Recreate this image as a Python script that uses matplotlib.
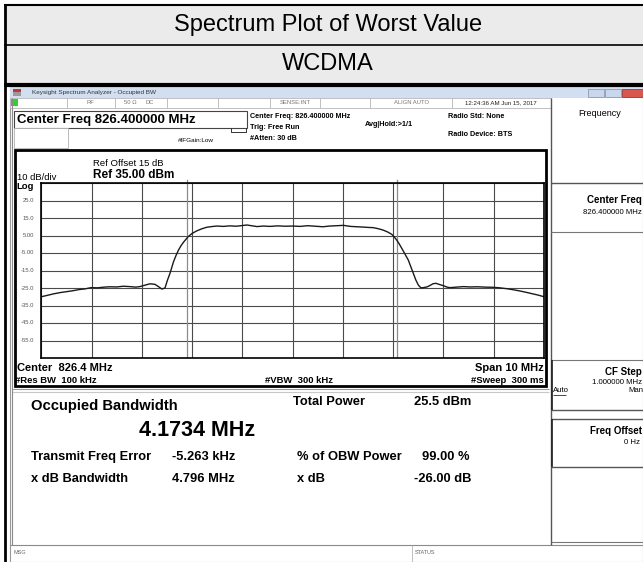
import matplotlib
matplotlib.use('Agg')
import matplotlib.pyplot as plt
from matplotlib.patches import Rectangle

plt.rcParams['font.family'] = ['Liberation Sans', 'DejaVu Sans']

# ---------------- data ----------------
title_text = 'Spectrum Plot of Worst Value'
mode_text = 'WCDMA'
center_mhz = 826.4
span_mhz = 10
ref_level_dbm = 35
db_per_div = 10
obw_mhz = 4.1734
freq_error_khz = -5.263
y_tick_labels = ['25.0', '15.0', '5.00', '-5.00', '-15.0', '-25.0', '-35.0', '-45.0', '-55.0']

trace_freq_mhz = [821.40, 821.52, 821.65, 821.78, 821.90, 822.02, 822.15, 822.27, 822.39, 822.52,
                  822.65, 822.77, 822.90, 823.03, 823.16, 823.28, 823.36, 823.46, 823.56, 823.66,
                  823.73, 823.80, 823.86, 823.91, 823.96, 824.03, 824.08, 824.13, 824.18, 824.23,
                  824.32, 824.40, 824.49, 824.59, 824.69, 824.79, 824.89, 825.02, 825.15, 825.28,
                  825.40, 825.49, 825.58, 825.69, 825.82, 825.95, 826.10, 826.25, 826.40, 826.55,
                  826.70, 826.85, 827.00, 827.14, 827.28, 827.41, 827.55, 827.68, 827.81, 827.91,
                  828.00, 828.10, 828.20, 828.29, 828.37, 828.42, 828.47, 828.52, 828.57, 828.64,
                  828.70, 828.75, 828.80, 828.85, 828.90, 828.95, 829.00, 829.07, 829.13, 829.19,
                  829.25, 829.32, 829.40, 829.47, 829.53, 829.66, 829.80, 829.93, 830.08, 830.23,
                  830.39, 830.52, 830.66, 830.79, 830.92, 831.05, 831.17, 831.29, 831.40]
trace_level_dbm = [-30.0, -29.2, -28.3, -27.6, -27.1, -26.6, -25.9, -25.5, -24.8, -24.9,
                   -24.5, -24.3, -24.4, -24.0, -24.2, -24.5, -24.2, -23.4, -22.6, -22.9,
                   -24.2, -25.6, -25.0, -20.5, -16.6, -10.0, -6.4, -3.3, -0.8, 1.2,
                   4.3, 6.2, 7.6, 8.8, 9.7, 10.1, 10.4, 10.2, 10.5, 10.3,
                   10.7, 11.0, 10.6, 10.1, 10.4, 10.2, 10.5, 10.3, 10.4, 10.2,
                   10.6, 10.3, 10.0, 10.4, 10.6, 10.8, 10.2, 10.0, 9.8, 9.6,
                   9.5, 8.9, 8.1, 7.0, 5.7, 4.2, 2.4, 0.2, -2.3, -5.9,
                   -9.0, -12.8, -16.6, -20.4, -23.3, -24.9, -24.8, -24.4, -23.6, -22.6,
                   -22.3, -23.0, -23.7, -24.5, -24.8, -24.5, -24.2, -24.4, -24.3, -24.5,
                   -24.6, -24.9, -25.4, -26.0, -26.7, -27.5, -28.3, -29.1, -30.0]

# ---------------- figure ----------------
W, H = 643, 562
fig = plt.figure(figsize=(W / 100, H / 100), dpi=100)
fig.patch.set_facecolor('white')
bg = fig.add_axes([0, 0, 1, 1])
bg.set_xlim(0, W)
bg.set_ylim(H, 0)
bg.axis('off')


def rect(x0, y0, x1, y1, fc='none', ec='none', lw=1.0, z=1):
    bg.add_patch(Rectangle((x0, y0), x1 - x0, y1 - y0, facecolor=fc,
                           edgecolor=ec, linewidth=lw, zorder=z))


def hline(y, x0, x1, color='black', lw=1.0, z=3):
    bg.plot([x0, x1], [y, y], color=color, lw=lw, zorder=z, solid_capstyle='butt')


def vline(x, y0, y1, color='black', lw=1.0, z=3):
    bg.plot([x, x], [y0, y1], color=color, lw=lw, zorder=z, solid_capstyle='butt')


def txt(x, y, s, size=7, weight='normal', ha='left', va='center', color='black', z=5):
    bg.text(x, y, s, fontsize=size, fontweight=weight, ha=ha, va=va, color=color, zorder=z)


# outer table header rows
rect(4, 4, 660, 84, fc='#ebebeb', z=0)
hline(4.5, 4, W, lw=1.5)
hline(45, 4, W, lw=1.2)
hline(84.5, 4, W, lw=3)
vline(4.5, 4, H, lw=2)
txt(328, 25.5, title_text, size=17, ha='center')
txt(328, 64.5, mode_text, size=17, ha='center')

# screenshot window
rect(10, 87, W, H, fc='white', ec='#9a9a9a', lw=0.8, z=0)
rect(10, 87, W, 98, fc='#d2dff0', z=1)
rect(13, 89, 21, 92, fc='#c8323a', z=2)
rect(13, 92, 21, 96, fc='#9a9a9a', z=2)
txt(32, 92.5, 'Keysight Spectrum Analyzer - Occupied BW', size=4.6, color='#333333')
rect(588, 88.5, 604, 96.5, fc='#c9d7ec', ec='#8a9bb3', lw=0.6, z=2)
rect(605, 88.5, 621, 96.5, fc='#c9d7ec', ec='#8a9bb3', lw=0.6, z=2)
rect(622, 88.5, 643, 96.5, fc='#d8574e', ec='#9b3a33', lw=0.6, z=2)

# status row
rect(10, 98, 551, 108, fc='white', ec='#b5b5b5', lw=0.6, z=1)
rect(11, 99, 18, 106, fc='#2fd12f', z=2)
for xs in [67, 115, 167, 218, 270, 320, 370, 452]:
    vline(xs, 98, 108, color='#b5b5b5', lw=0.6)
txt(90, 103, 'RF', size=4.2, color='#777777', ha='center')
txt(130, 103, '50 \u03a9', size=4.2, color='#777777', ha='center')
txt(150, 103, 'DC', size=4.2, color='#777777', ha='center')
txt(295, 103, 'SENSE:INT', size=4.2, color='#777777', ha='center')
txt(412, 103, 'ALIGN AUTO', size=4.2, color='#777777', ha='center')
txt(501, 103, '12:24:36 AM Jun 15, 2017', size=4.4, color='#222222', ha='center')

# center freq box and info
rect(14, 111, 247, 128, fc='white', ec='#444444', lw=0.8, z=1)
txt(17, 119.5, f'Center Freq {center_mhz:.6f} MHz', size=9.5, weight='bold')
rect(14, 128, 68, 148, fc='white', ec='#b0b0b0', lw=0.6, z=1)
bg.plot([231, 231, 246, 246], [128, 132, 132, 128], color='#333333', lw=0.7, zorder=3)
txt(178, 141, '#IFGain:Low', size=4.6)
txt(250, 117, f'Center Freq: {center_mhz:.6f} MHz', size=5.2, weight='bold')
txt(250, 127.5, 'Trig: Free Run', size=5.2, weight='bold')
txt(250, 138, '#Atten: 30 dB', size=5.2, weight='bold')
txt(365, 124, 'Avg|Hold:>1/1', size=5.2, weight='bold')
txt(448, 117, 'Radio Std: None', size=5.2, weight='bold')
txt(448, 135, 'Radio Device: BTS', size=5.2, weight='bold')

# plot frame
rect(15, 150, 546, 386, fc='white', ec='black', lw=2, z=1)
txt(93, 163, 'Ref Offset 15 dB', size=6.8)
txt(93, 175, f'Ref {ref_level_dbm:.2f} dBm', size=8.5, weight='bold')
txt(17, 177, f'{db_per_div} dB/div', size=6.8)
txt(16, 186.5, 'Log', size=6.8, weight='bold')
for i, lab in enumerate(y_tick_labels):
    txt(34, 183 + (i + 1) * 17.5, lab, size=4.2, ha='right', color='#555555')
txt(17, 368, f'Center  {center_mhz} MHz', size=8, weight='bold')
txt(15, 380.5, '#Res BW  100 kHz', size=6.8, weight='bold')
txt(265, 380.5, '#VBW  300 kHz', size=6.8, weight='bold')
txt(544, 368, f'Span {span_mhz} MHz', size=8, weight='bold', ha='right')
txt(544, 380.5, '#Sweep  300 ms', size=6.8, weight='bold', ha='right')

# measurement area
hline(389, 12, 549, color='#9a9a9a', lw=0.8)
hline(392, 12, 549, color='#c8c8c8', lw=0.8)
vline(12, 98, 545, color='#8a8a8a', lw=0.8)
meas_size = 9.3
txt(31, 406, 'Occupied Bandwidth', size=10.6, weight='bold')
txt(139, 431, f'{obw_mhz:.4f} MHz', size=15.5, weight='bold')
txt(293, 402, 'Total Power', size=meas_size, weight='bold')
txt(414, 402, '25.5 dBm', size=meas_size, weight='bold')
txt(31, 457, 'Transmit Freq Error', size=meas_size, weight='bold')
txt(172, 457, f'{freq_error_khz:.3f} kHz', size=meas_size, weight='bold')
txt(297, 457, '% of OBW Power', size=meas_size, weight='bold')
txt(422, 457, '99.00 %', size=meas_size, weight='bold')
txt(31, 479, 'x dB Bandwidth', size=meas_size, weight='bold')
txt(172, 479, '4.796 MHz', size=meas_size, weight='bold')
txt(297, 479, 'x dB', size=meas_size, weight='bold')
txt(414, 479, '-26.00 dB', size=meas_size, weight='bold')

# bottom status bar
hline(545, 10, W, color='#8a8a8a', lw=0.8)
vline(412, 545, H, color='#b5b5b5', lw=0.6)
txt(13, 553, 'MSG', size=4, color='#666666')
txt(415, 553, 'STATUS', size=4, color='#666666')

# right softkey panel
vline(551, 98, 545, color='#555555', lw=1.0)
txt(600, 113, 'Frequency', size=6.5, ha='center')
hline(183, 551, W, color='#555555', lw=1.0)
txt(642, 200, 'Center Freq', size=7, weight='bold', ha='right')
txt(642, 213, f'{center_mhz:.6f} MHz', size=5.6, ha='right')
hline(232, 551, W, color='#777777', lw=0.8)
hline(360, 551, W, color='#777777', lw=0.8)
txt(642, 372, 'CF Step', size=7, weight='bold', ha='right')
txt(642, 382, '1.000000 MHz', size=5.6, ha='right')
txt(553, 391, 'Auto', size=5.6)
hline(395, 553, 566, color='black', lw=0.5)
txt(643, 391, 'Man', size=5.6, ha='right')
hline(410, 551, W, color='#555555', lw=1.0)
hline(419, 551, W, color='#555555', lw=1.0)
vline(552, 360, 410, color='#222222', lw=1.2)
vline(552, 419, 467, color='#222222', lw=1.2)
txt(642, 431, 'Freq Offset', size=7, weight='bold', ha='right')
txt(640, 443, '0 Hz', size=5.6, ha='right')
hline(467, 551, W, color='#555555', lw=1.0)
hline(542, 551, W, color='#777777', lw=0.8)

# ---------------- spectrum graticule ----------------
gx0, gx1, gy0, gy1 = 41.3, 544.0, 183.0, 358.0
ax = fig.add_axes([gx0 / W, 1 - gy1 / H, (gx1 - gx0) / W, (gy1 - gy0) / H])
ax.set_zorder(4)
f0 = center_mhz - span_mhz / 2
f1 = center_mhz + span_mhz / 2
ax.set_xlim(f0, f1)
ax.set_ylim(ref_level_dbm - 10 * db_per_div, ref_level_dbm)
ax.set_xticks([f0 + i for i in range(span_mhz + 1)])
ax.set_yticks([ref_level_dbm - db_per_div * i for i in range(11)])
ax.grid(True, color='#4a4a4a', lw=0.8)
ax.tick_params(length=0, labelbottom=False, labelleft=False)
for s in ax.spines.values():
    s.set_color('black')
    s.set_linewidth(1.2)
ax.set_facecolor('white')
f_center_meas = center_mhz + freq_error_khz / 1000
for fm in [f_center_meas - obw_mhz / 2, f_center_meas + obw_mhz / 2]:
    ax.axvline(fm, color='#8c8c8c', lw=0.9)
    ax.plot([fm, fm], [ref_level_dbm, ref_level_dbm + 2], color='#8c8c8c', lw=0.9, clip_on=False)
ax.plot(trace_freq_mhz, trace_level_dbm, color='#1a1a1a', lw=1.0)

fig.savefig('out.png', dpi=100)
